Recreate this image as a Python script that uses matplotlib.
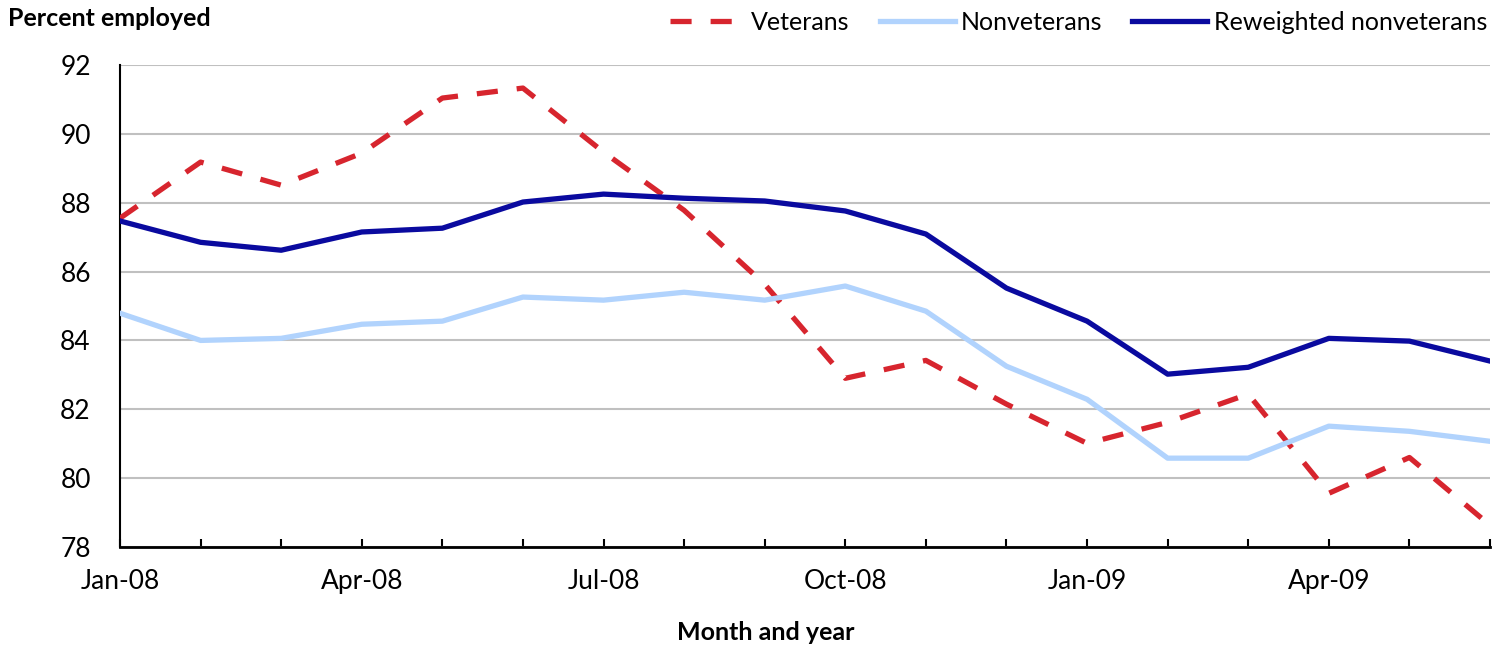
import numpy as np
import matplotlib.pyplot as plt

plt.rcParams['font.family'] = ['Lato', 'DejaVu Sans']

months = ["Jan-08", "Feb-08", "Mar-08", "Apr-08", "May-08", "Jun-08",
          "Jul-08", "Aug-08", "Sep-08", "Oct-08", "Nov-08", "Dec-08",
          "Jan-09", "Feb-09", "Mar-09", "Apr-09", "May-09", "Jun-09"]

veterans = [87.55, 89.18, 88.51, 89.44, 91.04, 91.33, 89.47, 87.78, 85.63,
            82.90, 83.42, 82.15, 81.01, 81.62, 82.44, 79.56, 80.60, 78.63]
nonveterans = [84.79, 84.00, 84.06, 84.47, 84.56, 85.26, 85.17, 85.40, 85.17,
               85.58, 84.85, 83.25, 82.29, 80.58, 80.58, 81.51, 81.36, 81.07]
reweighted = [87.47, 86.85, 86.62, 87.15, 87.26, 88.02, 88.25, 88.13, 88.05,
              87.76, 87.09, 85.52, 84.56, 83.02, 83.22, 84.06, 83.98, 83.40]

x = np.arange(len(months))

fig = plt.figure(figsize=(15.05, 6.46), dpi=100)
ax = fig.add_axes([120/1505, 1 - 547/646, (1490-120)/1505, (547-65)/646])

ax.plot(x, veterans, color='#d7252e', lw=3.8, dashes=(4, 3.6), label='Veterans', zorder=3)
ax.plot(x, nonveterans, color='#b1d3fd', lw=3.8, label='Nonveterans', zorder=3)
ax.plot(x, reweighted, color='#0a0a9f', lw=3.8, label='Reweighted nonveterans', zorder=3)

ax.set_xlim(0, len(months) - 1)
ax.set_ylim(78, 92)
ax.set_yticks(range(78, 93, 2))
ax.yaxis.grid(True, color='#c0c0c0', lw=1.5)
ax.set_axisbelow(True)
ax.tick_params(axis='y', length=0, labelsize=19, pad=21)

ax.set_xticks(x)
ax.set_xticklabels([m if i % 3 == 0 else '' for i, m in enumerate(months)])
ax.tick_params(axis='x', direction='in', length=6, width=1.5, labelsize=19, pad=16)

for s in ['top', 'right']:
    ax.spines[s].set_visible(False)
ax.spines['left'].set_linewidth(1.5)
ax.spines['bottom'].set_linewidth(2)

fig.text(8/1505, 1 - 19/646, 'Percent employed', fontsize=18, fontweight='bold', va='center')
fig.text(766/1505, 1 - 632/646, 'Month and year', fontsize=18, fontweight='bold',
         ha='center', va='center')

leg = fig.legend(loc='center right', bbox_to_anchor=(1497/1505, 1 - 22/646), ncol=3,
                 frameon=False, fontsize=18, handlelength=3.0, columnspacing=1.2,
                 handletextpad=0.25, borderaxespad=0)

fig.savefig('out.png', dpi=100)
